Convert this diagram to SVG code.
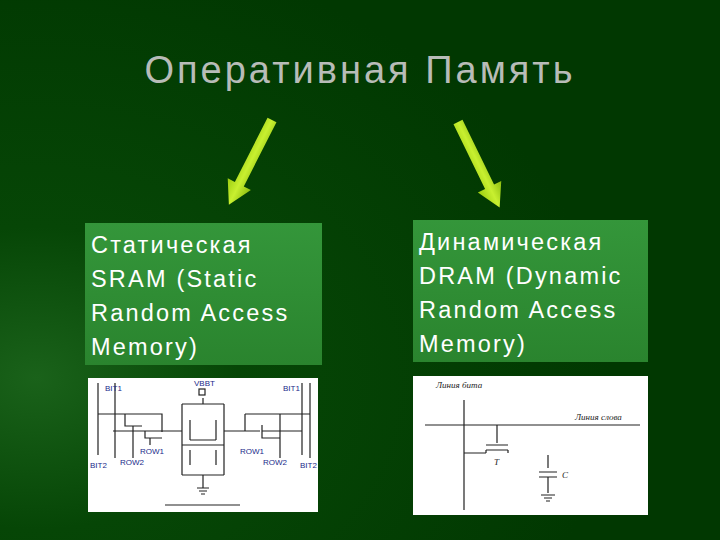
<svg xmlns="http://www.w3.org/2000/svg" width="720" height="540" viewBox="0 0 720 540">
<defs>
<radialGradient id="bg" cx="0.05" cy="0.7" r="0.8">
<stop offset="0" stop-color="#1a621a"/><stop offset="0.35" stop-color="#064606"/><stop offset="1" stop-color="#013801"/>
</radialGradient>
<linearGradient id="box" x1="0" y1="0" x2="0" y2="1"><stop offset="0" stop-color="#34963a"/><stop offset="1" stop-color="#2a842e"/></linearGradient>
<linearGradient id="arr" x1="0" y1="0" x2="1" y2="0"><stop offset="0" stop-color="#9ccc10"/><stop offset="0.5" stop-color="#c8f030"/><stop offset="1" stop-color="#8cbc10"/></linearGradient>
</defs>
<style>
.t{font-family:"Liberation Sans",Arial,sans-serif;fill:#ffffff;letter-spacing:2.2px}
.w{stroke:#222;stroke-width:1.2;fill:none}
.s{font-family:"Liberation Sans",Arial,sans-serif;font-size:8px;fill:#1a2a8a}
.r{font-family:"Liberation Serif",serif;font-style:italic;font-size:9px;fill:#222}
</style>
<rect width="720" height="540" fill="url(#bg)"/>
<text x="360" y="83" text-anchor="middle" font-family="Liberation Sans,Arial,sans-serif" font-size="38" letter-spacing="3" fill="#b8bcb8">Оперативная Память</text>
<g id="connectors">
<g transform="translate(272,120) rotate(27)"><polygon points="-5,0 5,0 5,72 13,72 0,95 -13,72 -5,72" fill="url(#arr)"/></g>
<g transform="translate(458,122) rotate(-26)"><polygon points="-5,0 5,0 5,72 13,72 0,95 -13,72 -5,72" fill="url(#arr)"/></g>
</g>
<g id="sram">
<rect x="85" y="223" width="237" height="142" fill="url(#box)"/>
<text class="t" font-size="23.5"><tspan x="91" y="253">Статическая</tspan><tspan x="91" y="287">SRAM (Static</tspan><tspan x="91" y="321">Random Access</tspan><tspan x="91" y="355">Memory)</tspan></text>
</g>
<g id="dram">
<rect x="413" y="220" width="235" height="142" fill="url(#box)"/>
<text class="t" font-size="23.5"><tspan x="419" y="250">Динамическая</tspan><tspan x="419" y="284">DRAM (Dynamic</tspan><tspan x="419" y="318">Random Access</tspan><tspan x="419" y="352">Memory)</tspan></text>
</g>
<g id="sram-circuit">
<rect x="88" y="378" width="230" height="134" fill="#ffffff"/>
<path class="w" d="M98,383V455M115,383V458M98,414H162V432M125,414V426H142M133,426V458M113,431H162M145,431V438H162M150,438V445M162,431H182M182,404V475M182,404H224M203,398V404M224,404V475M182,475H224M203,475V488M197,488H209M199,491H207M201,494H205M190,420V440M216,420V440M182,445H224M190,450V465M216,450V465M190,440H216M224,431H260M245,414V431M245,414H310M262,425V438H280M280,414V458M302,383V455M310,383V458M262,431H302M165,505H240"/>
<rect x="199" y="389" width="6" height="6" class="w"/>
<text class="s" x="105" y="391">BIT1</text><text class="s" x="194" y="386">VBBT</text><text class="s" x="283" y="391">BIT1</text>
<text class="s" x="90" y="468">BIT2</text><text class="s" x="120" y="465">ROW2</text><text class="s" x="140" y="454">ROW1</text>
<text class="s" x="240" y="454">ROW1</text><text class="s" x="263" y="465">ROW2</text><text class="s" x="300" y="468">BIT2</text>
</g>
<g id="dram-circuit">
<rect x="413" y="376" width="235" height="139" fill="#ffffff"/>
<path class="w" d="M464,400V510M425,425H640M497,425V443M486,445H508M486,450H508M486,450V453M508,450V453M464,453H486M548,455V468M539,472H557M539,477H557M548,477V493M541,495H555M544,498H552M546,501H550"/>
<text class="r" x="436" y="388">Линия бита</text>
<text class="r" x="575" y="420">Линия слова</text>
<text class="r" x="494" y="465">T</text>
<text class="r" x="562" y="478">C</text>
</g>
</svg>
